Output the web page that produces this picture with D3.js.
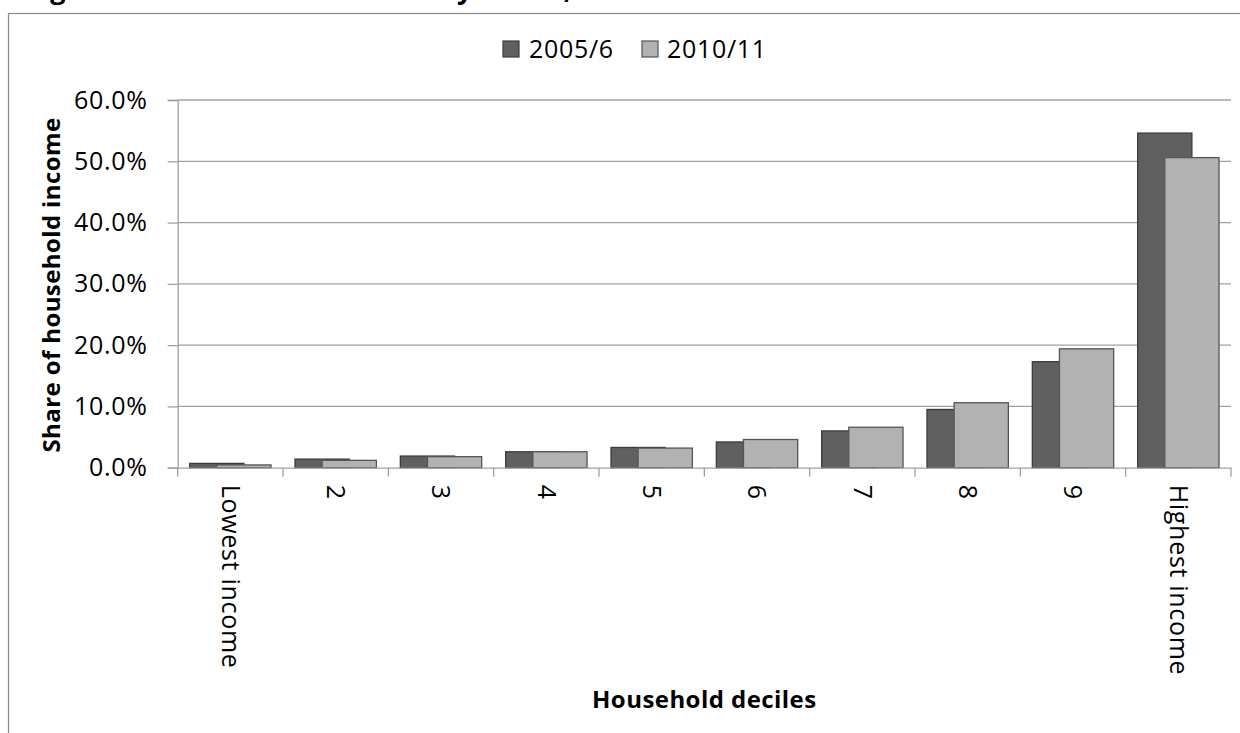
<!DOCTYPE html>
<html>
<head>
<meta charset="utf-8">
<script src="https://cdn.jsdelivr.net/npm/d3@7"></script>
<style>
  html, body { margin: 0; padding: 0; background: #ffffff; }
  svg { display: block; }
  text { font-family: "Open Sans", "Liberation Sans", sans-serif; fill: #000; }
</style>
</head>
<body>
<svg id="chart" width="1240" height="733"></svg>
<script>
// Household deciles and share of total household income in each decile (%)
const categories = ["Lowest income", "2", "3", "4", "5", "6", "7", "8", "9", "Highest income"];
const seriesNames = ["2005/6", "2010/11"];
const values2005 = [0.7, 1.4, 1.9, 2.6, 3.3, 4.2, 6.0, 9.5, 17.3, 54.6];
const values2010 = [0.45, 1.2, 1.8, 2.6, 3.2, 4.6, 6.6, 10.6, 19.4, 50.6];
const yTicks = [0, 10, 20, 30, 40, 50, 60];

const colors = { "2005/6": "#606060", "2010/11": "#b2b2b2" };
const strokes = { "2005/6": "#3c3c3c", "2010/11": "#555555" };

const svg = d3.select("#chart");
const W = 1240, H = 733;
const plot = { left: 177.7, right: 1231, top: 100, bottom: 467.7 };

// Title, sitting above the top edge of the page
svg.append("text")
  .attr("x", 26).attr("y", -1)
  .attr("font-size", 27).attr("letter-spacing", 0.6).attr("font-weight", "bold")
  .text("Figure 1: Income distribution by decile, 2005/6 and 2010/11");

// Chart frame
svg.append("rect")
  .attr("x", 8.5).attr("y", 13.5)
  .attr("width", W + 20).attr("height", H + 20)
  .attr("fill", "none").attr("stroke", "#8a8a8a").attr("stroke-width", 1.2);

const x = d3.scaleBand().domain(categories).range([plot.left, plot.right]).padding(0);
const y = d3.scaleLinear().domain([0, 60]).range([plot.bottom, plot.top]);

// Gridlines
svg.append("g").attr("class", "grid")
  .selectAll("line").data(yTicks.filter(d => d > 0)).join("line")
  .attr("x1", plot.left).attr("x2", plot.right)
  .attr("y1", d => y(d)).attr("y2", d => y(d))
  .attr("stroke", "#a0a0a0").attr("stroke-width", 1.3);

// Y axis
const yAxis = svg.append("g")
  .attr("transform", `translate(${plot.left},0)`)
  .call(d3.axisLeft(y).tickValues(yTicks).tickFormat(d => d3.format(".1f")(d) + "%").tickSize(10).tickPadding(20));
yAxis.select(".domain").attr("stroke", "#a0a0a0").attr("stroke-width", 1.3);
yAxis.selectAll(".tick line").attr("stroke", "#a0a0a0").attr("stroke-width", 1.3);
yAxis.selectAll(".tick text")
  .attr("font-family", "'Open Sans', sans-serif")
  .attr("font-size", 25).attr("letter-spacing", 0.7).attr("fill", "#000");

// Bars: 2010/11 overlaps half of 2005/6 and is drawn on top
const bw = x.bandwidth() * 0.515;
const offsets = { "2005/6": -0.75, "2010/11": -0.25 };
const seriesData = [
  { name: "2005/6", values: values2005 },
  { name: "2010/11", values: values2010 }
];
seriesData.forEach(s => {
  svg.append("g").selectAll("rect")
    .data(s.values.map((v, i) => ({ cat: categories[i], v })))
    .join("rect")
    .attr("x", d => x(d.cat) + x.bandwidth() / 2 + offsets[s.name] * bw)
    .attr("y", d => y(d.v))
    .attr("width", bw)
    .attr("height", d => y(0) - y(d.v))
    .attr("fill", colors[s.name])
    .attr("stroke", strokes[s.name])
    .attr("stroke-width", 1.3);
});

// X axis
const xAxis = svg.append("g")
  .attr("transform", `translate(0,${plot.bottom})`)
  .call(d3.axisBottom(x).tickSize(0).tickFormat(""));
xAxis.select(".domain").attr("stroke", "#a0a0a0").attr("stroke-width", 1.3);
xAxis.selectAll(".tick").remove();

// Category boundary tick marks
const boundaries = categories.map(c => x(c)).concat([plot.right]);
svg.append("g").selectAll("line").data(boundaries).join("line")
  .attr("x1", d => d).attr("x2", d => d)
  .attr("y1", plot.bottom).attr("y2", plot.bottom + 9)
  .attr("stroke", "#a0a0a0").attr("stroke-width", 1.3);

// Rotated category labels
svg.append("g").selectAll("text").data(categories).join("text")
  .attr("transform", d => `translate(${x(d) + x.bandwidth() / 2},${plot.bottom + 17}) rotate(90)`)
  .attr("dy", "0.35em")
  .attr("text-anchor", "start")
  .attr("font-size", 25).attr("letter-spacing", 0.7)
  .text(d => d);

// Axis titles
svg.append("text")
  .attr("transform", `translate(52,285) rotate(-90)`)
  .attr("text-anchor", "middle").attr("dy", "0.35em")
  .attr("font-size", 24).attr("letter-spacing", 0.4).attr("font-weight", "bold")
  .text("Share of household income");

svg.append("text")
  .attr("x", (plot.left + plot.right) / 2).attr("y", 700)
  .attr("text-anchor", "middle").attr("dy", "0.35em")
  .attr("font-size", 24).attr("letter-spacing", 0.45).attr("font-weight", "bold")
  .text("Household deciles");

// Legend
const legendItems = [
  { name: "2005/6", box: 503, text: 529 },
  { name: "2010/11", box: 642, text: 667 }
];
const legend = svg.append("g");
legendItems.forEach(it => {
  legend.append("rect")
    .attr("x", it.box).attr("y", 41).attr("width", 16).attr("height", 16)
    .attr("fill", colors[it.name]).attr("stroke", strokes[it.name]).attr("stroke-width", 1.2);
  legend.append("text")
    .attr("x", it.text).attr("y", 49).attr("dy", "0.35em")
    .attr("font-size", 25).attr("letter-spacing", 0.7)
    .text(it.name);
});
</script>
</body>
</html>
